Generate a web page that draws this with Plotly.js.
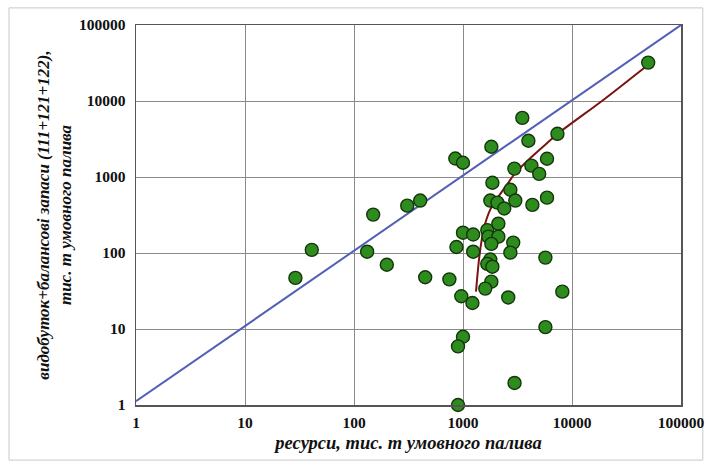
<!DOCTYPE html>
<html>
<head>
<meta charset="utf-8">
<script src="https://cdn.plot.ly/plotly-3.0.1.min.js"></script>
<style>
  html, body { margin: 0; padding: 0; background: #ffffff; }
  #chart { width: 709px; height: 467px; }
</style>
</head>
<body>
<div id="chart"></div>
<script>
// Green points: resources (x) vs production + balance reserves (y)
const resources = [29, 41, 132, 150, 200, 308, 405, 450, 750, 850, 1000, 1000, 870, 1240, 1240,
  965, 1220, 1000, 900, 900, 1820, 1860, 1780, 2070, 2390, 1670, 2110, 1710, 2110, 1820,
  2890, 2720, 1780, 1670, 1860, 5700, 1820, 1600, 2600, 8150, 3980, 7350, 3500, 5900, 2960,
  4240, 5000, 2720, 3020, 4330, 5900, 50000, 5700, 2970];
const reserves = [47, 110, 104, 320, 70, 420, 490, 48, 45, 1750, 1540, 185, 120, 175, 104,
  27, 22, 7.9, 5.9, 1, 2500, 840, 490, 460, 385, 200, 243, 164, 164, 132,
  137, 101, 82, 72, 66, 87, 42, 34, 26, 31, 3000, 3700, 6000, 1740, 1290,
  1410, 1100, 680, 490, 430, 535, 32000, 10.6, 1.95];

// Red trend curve
const curveX = [1316, 1413, 1545, 1778, 2122, 2535, 3020, 4000, 5690, 7540, 19500, 48700];
const curveY = [31, 90, 203, 372, 556, 793, 1130, 1690, 2660, 3790, 10400, 29100];

// Blue reference line
const diagX = [1, 100000];
const diagY = [1.12, 100000];

// Axis ticks
const tickVals = [1, 10, 100, 1000, 10000, 100000];
const tickText = ["1", "10", "100", "1000", "10000", "100000"];

const FONT = "Liberation Serif, Times New Roman, serif";

const traces = [
  {
    x: diagX, y: diagY, type: "scatter", mode: "lines",
    line: { color: "#5060b8", width: 2 }, hoverinfo: "skip", cliponaxis: false
  },
  {
    x: curveX, y: curveY, type: "scatter", mode: "lines",
    line: { color: "#7a1414", width: 2, shape: "spline", smoothing: 0.8 }, hoverinfo: "skip"
  },
  {
    x: resources, y: reserves, type: "scatter", mode: "markers",
    marker: { size: 13, color: "#2e8c1e", line: { color: "#14360b", width: 1.4 } },
    cliponaxis: false
  }
];

const axisCommon = {
  type: "log",
  range: [0, 5],
  tickvals: tickVals,
  ticktext: tickText,
  showgrid: true,
  gridcolor: "#8a8a8a",
  gridwidth: 1,
  showline: true,
  linecolor: "#555555",
  linewidth: 1.5,
  mirror: true,
  ticks: "",
  zeroline: false,
  tickfont: { family: FONT, size: 15.5, color: "#111111", weight: "bold" }
};

const layout = {
  width: 709,
  height: 467,
  margin: { l: 136, r: 28, t: 25, b: 62 },
  paper_bgcolor: "#ffffff",
  plot_bgcolor: "#ffffff",
  showlegend: false,
  xaxis: Object.assign({}, axisCommon, {
    ticklabelstandoff: 3,
    title: {
      text: "ресурси, тис. т умовного палива",
      font: { family: FONT, size: 18.5, color: "#111111", weight: "bold", style: "italic" },
      standoff: 6
    }
  }),
  yaxis: Object.assign({}, axisCommon, {
    ticklabelstandoff: 6,
    title: {
      text: "видобуток+балансові запаси (111+121+122),<br>тис. т умовного палива",
      font: { family: FONT, size: 17, color: "#111111", weight: "bold", style: "italic" },
      standoff: 3
    }
  }),
  shapes: [
    {
      type: "rect", xref: "paper", yref: "paper",
      x0: -0.233, x1: 1.040, y0: -0.145, y1: 1.045,
      line: { color: "#c8c8c8", width: 1 }, layer: "below"
    }
  ]
};

Plotly.newPlot("chart", traces, layout, { displayModeBar: false, staticPlot: true });
</script>
</body>
</html>
